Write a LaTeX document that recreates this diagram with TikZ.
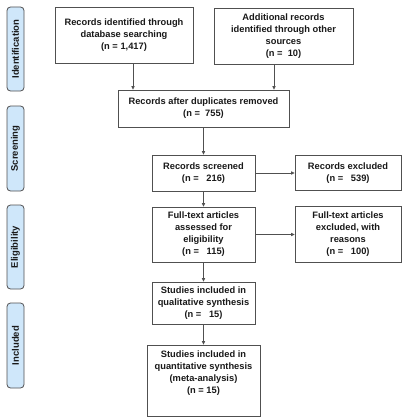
\documentclass[tikz,border=0pt]{standalone}
\usepackage{fontspec}
\setmainfont{Liberation Sans}
\usetikzlibrary{arrows.meta}
\definecolor{sidefill}{HTML}{CFE7FA}
\definecolor{edgecol}{HTML}{505050}
\tikzset{
  boxfont/.style={font=\fontsize{9.3}{12}\selectfont\bfseries, text=black!90},
  box/.style={draw=edgecol, line width=0.8pt, fill=white, inner sep=0pt, align=center, boxfont},
  side/.style={draw=edgecol, line width=0.8pt, fill=sidefill, rounded corners=3.5pt, rotate=90,
    inner sep=0pt, minimum height=17pt, font=\fontsize{9.5}{11}\selectfont\bfseries, text=black!90},
  arr/.style={draw=edgecol, line width=0.8pt, -{Triangle[length=3.5pt,width=3.2pt]}}
}
\begin{document}
\begin{tikzpicture}[x=1pt,y=1pt]
\useasboundingbox (0,0) rectangle (407,-420);
% side labels
\node[side, minimum width=84pt] (sid) at (15.5,-49) {Identification};
\node[side, minimum width=85pt] (sscr) at (15.5,-148.5) {Screening};
\node[side, minimum width=84pt] (selg) at (15.5,-247) {Eligibility};
\node[side, minimum width=85pt] (sinc) at (15.5,-345.5) {Included};
% boxes
\node[box, minimum width=138pt, minimum height=56pt] (b1) at (124,-35)
  {Records identified through\\database searching\\(n = 1,417)};
\node[box, minimum width=139pt, minimum height=56pt] (b2) at (283.5,-36)
  {Additional records\\identified through other\\sources\\(n = \ 10)};
\node[box, minimum width=171pt, minimum height=37pt] (b3) at (203.5,-108.5)
  {Records after duplicates removed\\(n = \ 755)};
\node[box, minimum width=103pt, minimum height=36pt] (b4) at (203.5,-173)
  {Records screened\\(n = \ \ 216)};
\node[box, minimum width=106pt, minimum height=35pt] (b5) at (348,-173)
  {Records excluded\\(n = \ \ 539)};
\node[box, minimum width=103pt, minimum height=55pt] (b6) at (203.5,-234.5)
  {Full-text articles\\assessed for\\eligibility\\(n = \ \ 115)};
\node[box, minimum width=106pt, minimum height=56pt] (b7) at (348,-234.5)
  {Full-text articles\\excluded, with\\reasons\\(n = \ \ 100)};
\node[box, minimum width=103pt, minimum height=42pt] (b8) at (203.5,-303)
  {Studies included in\\qualitative synthesis\\(n = \ \ 15)};
\node[box, minimum width=113pt, minimum height=71pt] (b9) at (203.5,-380.5) {};
\node[anchor=north, align=center, inner sep=0pt, boxfont] (b9t) at ([yshift=-6pt]b9.north)
  {Studies included in\\quantitative synthesis\\(meta-analysis)\\(n = 15)};
% connectors
\coordinate (c1) at (133,0);
\coordinate (c2) at (274,0);
\draw[arr] (b1.south -| c1) -- (b3.north -| c1);
\draw[arr] (b2.south -| c2) -- (b3.north -| c2);
\draw[arr] (b3) -- (b4);
\draw[arr] (b4) -- (b5);
\draw[arr] (b4) -- (b6);
\draw[arr] (b6) -- (b7);
\draw[arr] (b6) -- (b8);
\draw[arr] (b8) -- (b9);
\end{tikzpicture}
\end{document}
